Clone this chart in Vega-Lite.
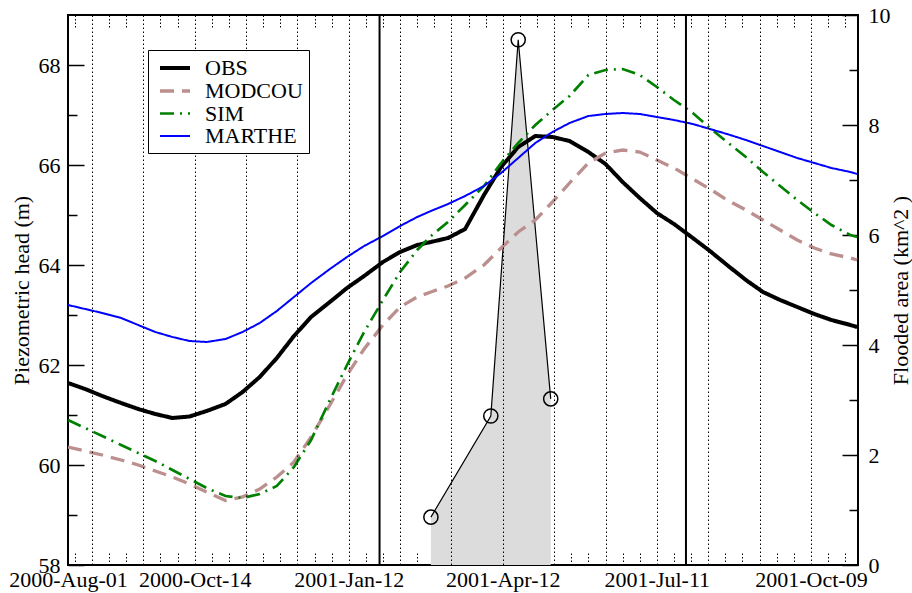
{
  "$schema": "https://vega.github.io/schema/vega-lite/v6.json",
  "width": 790,
  "height": 550,
  "autosize": {"type": "none"},
  "padding": {"left": 68, "top": 15, "right": 54, "bottom": 28},
  "background": "white",
  "datasets": {
    "heads": [
      {"date": "2000-08-01", "OBS": 61.64, "MODCOU": 60.36, "SIM": 60.90, "MARTHE": 63.20},
      {"date": "2000-08-11", "OBS": 61.52, "MODCOU": 60.28, "SIM": 60.74, "MARTHE": 63.12},
      {"date": "2000-08-21", "OBS": 61.38, "MODCOU": 60.20, "SIM": 60.58, "MARTHE": 63.04},
      {"date": "2000-09-01", "OBS": 61.24, "MODCOU": 60.10, "SIM": 60.40, "MARTHE": 62.94},
      {"date": "2000-09-11", "OBS": 61.12, "MODCOU": 60.00, "SIM": 60.24, "MARTHE": 62.80},
      {"date": "2000-09-21", "OBS": 61.02, "MODCOU": 59.88, "SIM": 60.08, "MARTHE": 62.66},
      {"date": "2000-10-01", "OBS": 60.94, "MODCOU": 59.76, "SIM": 59.90, "MARTHE": 62.56},
      {"date": "2000-10-11", "OBS": 60.97, "MODCOU": 59.62, "SIM": 59.72, "MARTHE": 62.48},
      {"date": "2000-10-21", "OBS": 61.08, "MODCOU": 59.46, "SIM": 59.54, "MARTHE": 62.46},
      {"date": "2000-11-01", "OBS": 61.22, "MODCOU": 59.29, "SIM": 59.38, "MARTHE": 62.52},
      {"date": "2000-11-11", "OBS": 61.46, "MODCOU": 59.36, "SIM": 59.34, "MARTHE": 62.66},
      {"date": "2000-11-21", "OBS": 61.76, "MODCOU": 59.52, "SIM": 59.42, "MARTHE": 62.84},
      {"date": "2000-12-01", "OBS": 62.14, "MODCOU": 59.76, "SIM": 59.58, "MARTHE": 63.08},
      {"date": "2000-12-11", "OBS": 62.58, "MODCOU": 60.06, "SIM": 59.96, "MARTHE": 63.36},
      {"date": "2000-12-21", "OBS": 62.96, "MODCOU": 60.56, "SIM": 60.50, "MARTHE": 63.64},
      {"date": "2001-01-01", "OBS": 63.26, "MODCOU": 61.20, "SIM": 61.30, "MARTHE": 63.92},
      {"date": "2001-01-11", "OBS": 63.54, "MODCOU": 61.80, "SIM": 62.00, "MARTHE": 64.16},
      {"date": "2001-01-21", "OBS": 63.78, "MODCOU": 62.32, "SIM": 62.66, "MARTHE": 64.38},
      {"date": "2001-02-01", "OBS": 64.06, "MODCOU": 62.80, "SIM": 63.30, "MARTHE": 64.58},
      {"date": "2001-02-11", "OBS": 64.26, "MODCOU": 63.16, "SIM": 63.86, "MARTHE": 64.78},
      {"date": "2001-02-21", "OBS": 64.40, "MODCOU": 63.36, "SIM": 64.30, "MARTHE": 64.96},
      {"date": "2001-03-01", "OBS": 64.46, "MODCOU": 63.46, "SIM": 64.58, "MARTHE": 65.08},
      {"date": "2001-03-11", "OBS": 64.54, "MODCOU": 63.58, "SIM": 64.86, "MARTHE": 65.22},
      {"date": "2001-03-21", "OBS": 64.72, "MODCOU": 63.74, "SIM": 65.20, "MARTHE": 65.38},
      {"date": "2001-04-01", "OBS": 65.40, "MODCOU": 64.00, "SIM": 65.58, "MARTHE": 65.58},
      {"date": "2001-04-11", "OBS": 65.96, "MODCOU": 64.34, "SIM": 66.04, "MARTHE": 65.84},
      {"date": "2001-04-21", "OBS": 66.36, "MODCOU": 64.66, "SIM": 66.44, "MARTHE": 66.14},
      {"date": "2001-05-01", "OBS": 66.58, "MODCOU": 64.90, "SIM": 66.80, "MARTHE": 66.44},
      {"date": "2001-05-11", "OBS": 66.56, "MODCOU": 65.26, "SIM": 67.10, "MARTHE": 66.66},
      {"date": "2001-05-21", "OBS": 66.48, "MODCOU": 65.64, "SIM": 67.38, "MARTHE": 66.84},
      {"date": "2001-06-01", "OBS": 66.26, "MODCOU": 66.04, "SIM": 67.80, "MARTHE": 66.98},
      {"date": "2001-06-11", "OBS": 66.02, "MODCOU": 66.24, "SIM": 67.90, "MARTHE": 67.02},
      {"date": "2001-06-21", "OBS": 65.66, "MODCOU": 66.30, "SIM": 67.92, "MARTHE": 67.04},
      {"date": "2001-07-01", "OBS": 65.34, "MODCOU": 66.26, "SIM": 67.80, "MARTHE": 67.02},
      {"date": "2001-07-11", "OBS": 65.04, "MODCOU": 66.10, "SIM": 67.56, "MARTHE": 66.96},
      {"date": "2001-07-21", "OBS": 64.82, "MODCOU": 65.94, "SIM": 67.30, "MARTHE": 66.90},
      {"date": "2001-08-01", "OBS": 64.54, "MODCOU": 65.72, "SIM": 67.04, "MARTHE": 66.82},
      {"date": "2001-08-11", "OBS": 64.28, "MODCOU": 65.52, "SIM": 66.74, "MARTHE": 66.72},
      {"date": "2001-08-21", "OBS": 64.00, "MODCOU": 65.30, "SIM": 66.46, "MARTHE": 66.62},
      {"date": "2001-09-01", "OBS": 63.70, "MODCOU": 65.10, "SIM": 66.16, "MARTHE": 66.50},
      {"date": "2001-09-11", "OBS": 63.46, "MODCOU": 64.90, "SIM": 65.86, "MARTHE": 66.38},
      {"date": "2001-09-21", "OBS": 63.30, "MODCOU": 64.70, "SIM": 65.58, "MARTHE": 66.26},
      {"date": "2001-10-01", "OBS": 63.16, "MODCOU": 64.50, "SIM": 65.30, "MARTHE": 66.14},
      {"date": "2001-10-11", "OBS": 63.02, "MODCOU": 64.34, "SIM": 65.04, "MARTHE": 66.04},
      {"date": "2001-10-21", "OBS": 62.90, "MODCOU": 64.22, "SIM": 64.80, "MARTHE": 65.94},
      {"date": "2001-11-01", "OBS": 62.80, "MODCOU": 64.14, "SIM": 64.60, "MARTHE": 65.86},
      {"date": "2001-11-05", "OBS": 62.76, "MODCOU": 64.10, "SIM": 64.56, "MARTHE": 65.82}
    ],
    "flood": [
      {"date": "2001-03-01", "area": 0.87},
      {"date": "2001-04-05", "area": 2.71},
      {"date": "2001-04-21", "area": 9.55},
      {"date": "2001-05-10", "area": 3.02}
    ],
    "events": [
      {"date": "2001-01-30"},
      {"date": "2001-07-28"}
    ]
  },
  "layer": [
    {
      "data": {"name": "flood"},
      "mark": {"type": "area", "color": "#dcdcdc", "opacity": 1},
      "encoding": {
        "x": {
          "field": "date", "type": "temporal",
          "scale": {"type": "utc", "domain": [{"year": 2000, "month": 8, "date": 1, "utc": true}, {"year": 2001, "month": 11, "date": 5, "hours": 12, "utc": true}]},
          "axis": {
            "orient": "bottom", "grid": true, "gridDash": [1.5, 2.5], "gridColor": "black", "gridWidth": 1,
            "ticks": false, "labels": false, "domain": false, "title": null, "zindex": 1,
            "values": [
              {"year": 2000, "month": 8, "date": 15, "utc": true},
              {"year": 2000, "month": 9, "date": 14, "utc": true},
              {"year": 2000, "month": 10, "date": 14, "utc": true},
              {"year": 2000, "month": 11, "date": 13, "utc": true},
              {"year": 2000, "month": 12, "date": 13, "utc": true},
              {"year": 2001, "month": 1, "date": 12, "utc": true},
              {"year": 2001, "month": 2, "date": 11, "utc": true},
              {"year": 2001, "month": 3, "date": 13, "utc": true},
              {"year": 2001, "month": 4, "date": 12, "utc": true},
              {"year": 2001, "month": 5, "date": 12, "utc": true},
              {"year": 2001, "month": 6, "date": 11, "utc": true},
              {"year": 2001, "month": 7, "date": 11, "utc": true},
              {"year": 2001, "month": 8, "date": 10, "utc": true},
              {"year": 2001, "month": 9, "date": 9, "utc": true},
              {"year": 2001, "month": 10, "date": 9, "utc": true}
            ]
          }
        },
        "y": {
          "field": "area", "type": "quantitative",
          "scale": {"domain": [0, 10], "nice": false, "zero": true},
          "axis": {
            "orient": "right",
            "values": [0, 1, 2, 3, 4, 5, 6, 7, 8, 9, 10],
            "labelExpr": "datum.value % 2 === 0 ? datum.label : ''",
            "tickSize": {"condition": {"test": "datum.value % 2 === 0", "value": -16}, "value": -9},
            "tickWidth": 1.5,
            "labelPadding": 26,
            "labelFlush": false,
            "grid": false, "domain": false,
            "title": "Flooded area (km^2 )",
            "titleAngle": 270,
            "titleBaseline": "top",
            "titlePadding": 0
          }
        }
      }
    },
    {
      "data": {"name": "flood"},
      "mark": {"type": "line", "color": "black", "strokeWidth": 1.2},
      "encoding": {
        "x": {
          "field": "date", "type": "temporal",
          "scale": {"type": "utc", "domain": [{"year": 2000, "month": 8, "date": 1, "utc": true}, {"year": 2001, "month": 11, "date": 5, "hours": 12, "utc": true}]},
          "axis": {
            "orient": "bottom", "ticks": true, "tickSize": -12, "tickDash": [1.5, 2], "tickColor": "black", "tickWidth": 1,
            "labels": false, "domain": false, "grid": false, "title": null,
            "values": [
              {"year": 2000, "month": 8, "date": 5, "utc": true},
              {"year": 2000, "month": 8, "date": 25, "utc": true},
              {"year": 2000, "month": 9, "date": 4, "utc": true},
              {"year": 2000, "month": 9, "date": 24, "utc": true},
              {"year": 2000, "month": 10, "date": 4, "utc": true},
              {"year": 2000, "month": 10, "date": 24, "utc": true},
              {"year": 2000, "month": 11, "date": 3, "utc": true},
              {"year": 2000, "month": 11, "date": 23, "utc": true},
              {"year": 2000, "month": 12, "date": 3, "utc": true},
              {"year": 2000, "month": 12, "date": 23, "utc": true},
              {"year": 2001, "month": 1, "date": 2, "utc": true},
              {"year": 2001, "month": 1, "date": 22, "utc": true},
              {"year": 2001, "month": 2, "date": 1, "utc": true},
              {"year": 2001, "month": 2, "date": 21, "utc": true},
              {"year": 2001, "month": 3, "date": 3, "utc": true},
              {"year": 2001, "month": 3, "date": 23, "utc": true},
              {"year": 2001, "month": 4, "date": 2, "utc": true},
              {"year": 2001, "month": 4, "date": 22, "utc": true},
              {"year": 2001, "month": 5, "date": 2, "utc": true},
              {"year": 2001, "month": 5, "date": 22, "utc": true},
              {"year": 2001, "month": 6, "date": 1, "utc": true},
              {"year": 2001, "month": 6, "date": 21, "utc": true},
              {"year": 2001, "month": 7, "date": 1, "utc": true},
              {"year": 2001, "month": 7, "date": 21, "utc": true},
              {"year": 2001, "month": 7, "date": 31, "utc": true},
              {"year": 2001, "month": 8, "date": 20, "utc": true},
              {"year": 2001, "month": 8, "date": 30, "utc": true},
              {"year": 2001, "month": 9, "date": 19, "utc": true},
              {"year": 2001, "month": 9, "date": 29, "utc": true},
              {"year": 2001, "month": 10, "date": 19, "utc": true},
              {"year": 2001, "month": 10, "date": 29, "utc": true}
            ]
          }
        },
        "y": {
          "field": "area", "type": "quantitative",
          "scale": {"domain": [0, 10], "nice": false, "zero": true},
          "axis": null
        }
      }
    },
    {
      "data": {"name": "flood"},
      "mark": {"type": "point", "shape": "circle", "size": 200, "filled": false, "color": "black", "strokeWidth": 1.5, "opacity": 1},
      "encoding": {
        "x": {
          "field": "date", "type": "temporal",
          "scale": {"type": "utc", "domain": [{"year": 2000, "month": 8, "date": 1, "utc": true}, {"year": 2001, "month": 11, "date": 5, "hours": 12, "utc": true}]},
          "axis": {
            "orient": "top", "ticks": true, "tickSize": -12, "tickDash": [1.5, 2], "tickColor": "black", "tickWidth": 1,
            "labels": false, "domain": false, "grid": false, "title": null,
            "values": [
              {"year": 2000, "month": 8, "date": 5, "utc": true},
              {"year": 2000, "month": 8, "date": 25, "utc": true},
              {"year": 2000, "month": 9, "date": 4, "utc": true},
              {"year": 2000, "month": 9, "date": 24, "utc": true},
              {"year": 2000, "month": 10, "date": 4, "utc": true},
              {"year": 2000, "month": 10, "date": 24, "utc": true},
              {"year": 2000, "month": 11, "date": 3, "utc": true},
              {"year": 2000, "month": 11, "date": 23, "utc": true},
              {"year": 2000, "month": 12, "date": 3, "utc": true},
              {"year": 2000, "month": 12, "date": 23, "utc": true},
              {"year": 2001, "month": 1, "date": 2, "utc": true},
              {"year": 2001, "month": 1, "date": 22, "utc": true},
              {"year": 2001, "month": 2, "date": 1, "utc": true},
              {"year": 2001, "month": 2, "date": 21, "utc": true},
              {"year": 2001, "month": 3, "date": 3, "utc": true},
              {"year": 2001, "month": 3, "date": 23, "utc": true},
              {"year": 2001, "month": 4, "date": 2, "utc": true},
              {"year": 2001, "month": 4, "date": 22, "utc": true},
              {"year": 2001, "month": 5, "date": 2, "utc": true},
              {"year": 2001, "month": 5, "date": 22, "utc": true},
              {"year": 2001, "month": 6, "date": 1, "utc": true},
              {"year": 2001, "month": 6, "date": 21, "utc": true},
              {"year": 2001, "month": 7, "date": 1, "utc": true},
              {"year": 2001, "month": 7, "date": 21, "utc": true},
              {"year": 2001, "month": 7, "date": 31, "utc": true},
              {"year": 2001, "month": 8, "date": 20, "utc": true},
              {"year": 2001, "month": 8, "date": 30, "utc": true},
              {"year": 2001, "month": 9, "date": 19, "utc": true},
              {"year": 2001, "month": 9, "date": 29, "utc": true},
              {"year": 2001, "month": 10, "date": 19, "utc": true},
              {"year": 2001, "month": 10, "date": 29, "utc": true}
            ]
          }
        },
        "y": {
          "field": "area", "type": "quantitative",
          "scale": {"domain": [0, 10], "nice": false, "zero": true},
          "axis": null
        }
      }
    },
    {
      "data": {"name": "heads"},
      "transform": [{"fold": ["OBS", "MODCOU", "SIM", "MARTHE"], "as": ["series", "head"]}],
      "mark": {"type": "line", "clip": true},
      "encoding": {
        "x": {
          "field": "date", "type": "temporal",
          "scale": {"type": "utc", "domain": [{"year": 2000, "month": 8, "date": 1, "utc": true}, {"year": 2001, "month": 11, "date": 5, "hours": 12, "utc": true}]},
          "axis": {
            "orient": "bottom", "ticks": false, "labels": true, "domain": false, "grid": false, "title": null,
            "format": "%Y-%b-%d", "labelPadding": 4, "labelFlush": false, "labelOverlap": false,
            "values": [
              {"year": 2000, "month": 8, "date": 1, "utc": true},
              {"year": 2000, "month": 10, "date": 14, "utc": true},
              {"year": 2001, "month": 1, "date": 12, "utc": true},
              {"year": 2001, "month": 4, "date": 12, "utc": true},
              {"year": 2001, "month": 7, "date": 11, "utc": true},
              {"year": 2001, "month": 10, "date": 9, "utc": true}
            ]
          }
        },
        "y": {
          "field": "head", "type": "quantitative",
          "scale": {"domain": [58, 69], "nice": false, "zero": false},
          "axis": {
            "orient": "left",
            "values": [58, 59, 60, 61, 62, 63, 64, 65, 66, 67, 68],
            "labelExpr": "datum.value % 2 === 0 ? datum.label : ''",
            "tickSize": {"condition": {"test": "datum.value % 2 === 0", "value": -16}, "value": -9},
            "tickWidth": 1.5,
            "labelPadding": 24,
            "labelFlush": false,
            "grid": false, "domain": false,
            "title": "Piezometric head (m)",
            "titlePadding": 5
          }
        },
        "color": {
          "field": "series", "type": "nominal",
          "scale": {"domain": ["OBS", "MODCOU", "SIM", "MARTHE"], "range": ["#000000", "#bc8f8f", "#008000", "#0000ff"]},
          "legend": {"title": null}
        },
        "strokeDash": {
          "field": "series", "type": "nominal",
          "scale": {"domain": ["OBS", "MODCOU", "SIM", "MARTHE"], "range": [[1, 0], [14, 8], [14, 6, 2, 6], [1, 0]]},
          "legend": {"title": null}
        },
        "strokeWidth": {
          "field": "series", "type": "ordinal",
          "scale": {"domain": ["OBS", "MODCOU", "SIM", "MARTHE"], "range": [4, 2]},
          "legend": {"title": null}
        }
      }
    },
    {
      "data": {"name": "events"},
      "mark": {"type": "rule", "color": "black", "strokeWidth": 2},
      "encoding": {
        "x": {
          "field": "date", "type": "temporal",
          "scale": {"type": "utc", "domain": [{"year": 2000, "month": 8, "date": 1, "utc": true}, {"year": 2001, "month": 11, "date": 5, "hours": 12, "utc": true}]},
          "axis": null
        }
      }
    }
  ],
  "resolve": {
    "scale": {"y": "independent"},
    "axis": {"x": "independent", "y": "independent"}
  },
  "config": {
    "font": "Liberation Serif",
    "view": {"stroke": "black", "strokeWidth": 2},
    "axis": {
      "labelFont": "Liberation Serif", "titleFont": "Liberation Serif",
      "labelFontSize": 22, "titleFontSize": 22, "titleFontWeight": "normal",
      "labelColor": "black", "titleColor": "black", "tickColor": "black",
      "domain": false, "grid": false
    },
    "legend": {
      "orient": "none", "legendX": 80, "legendY": 35,
      "symbolType": "M-1.5,0H1.5", "symbolSize": 400, "symbolOffset": 9,
      "labelFont": "Liberation Serif", "labelFontSize": 22, "labelColor": "black",
      "strokeColor": "black", "fillColor": "white", "padding": 6,
      "rowPadding": -1, "labelOffset": 18, "zindex": 2, "labelLimit": 300
    }
  }
}
